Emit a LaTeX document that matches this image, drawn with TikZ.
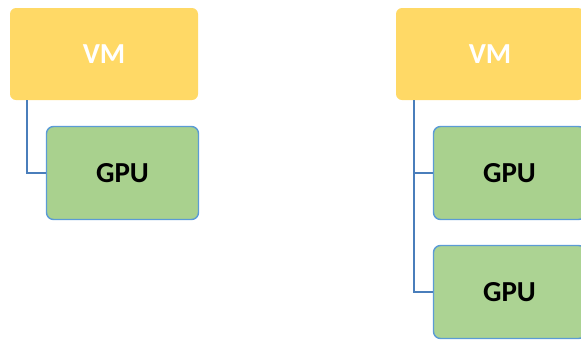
\documentclass[tikz,border=0pt]{standalone}
\usepackage{fontspec}
\setsansfont{Carlito}
\usetikzlibrary{patterns.meta}
\definecolor{vmgold}{RGB}{255,217,102}
\definecolor{gpugreen}{RGB}{169,209,142}
\definecolor{gpuedge}{RGB}{91,155,213}
\definecolor{linkblue}{RGB}{74,126,187}

\begin{document}
\begin{tikzpicture}[
      x=1pt, y=-1pt,
      every node/.style={font=\sffamily\bfseries\fontsize{29}{32}\selectfont},
      vmbox/.style={rounded corners=6pt, fill=vmgold, text=white, minimum width=188pt, minimum height=92pt},
      gpubox/.style={draw=gpuedge, line width=1.4pt, rounded corners=7pt, fill=gpugreen, minimum width=152pt, minimum height=93pt},
      shared/.style={gpubox, preaction={fill=gpugreen}, fill=none, pattern={Dots[distance=2pt, radius=0.35pt]}, pattern color=white!55!gpugreen},
      link/.style={draw=linkblue, line width=2pt}
  ]
    \clip (0,0) rectangle (581,341);
    % one VM with one GPU
    \node[vmbox] (vmA) at (104,54) {VM};
    \node[gpubox] (gpuA) at (122.5,173) {GPU};
    \draw[link] ([xshift=17pt]vmA.south west) |- (gpuA.west);
    % one VM with two GPUs
    \node[vmbox] (vmB) at (490,54) {VM};
    \node[gpubox] (gpuB) at (509.5,173) {GPU};
    \node[shared] (gpuC) at (509.5,292) {GPU};
    \draw[link] ([xshift=18pt]vmB.south west) |- (gpuB.west);
    \draw[link] ([xshift=18pt]vmB.south west) |- (gpuC.west);
  \end{tikzpicture}
\end{document}
